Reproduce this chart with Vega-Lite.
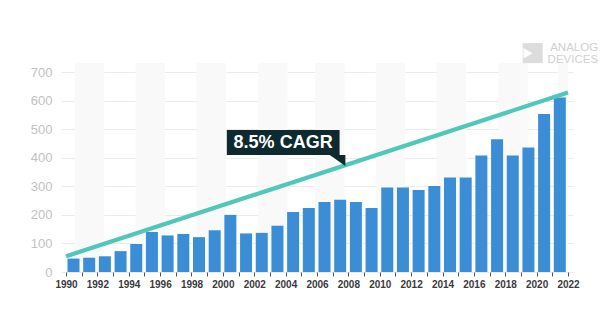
{
  "$schema": "https://vega.github.io/schema/vega-lite/v6.json",
  "autosize": {"type": "none"},
  "width": 512,
  "height": 209,
  "padding": {"left": 61, "top": 63, "right": 27, "bottom": 61},
  "background": "white",
  "title": {
    "text": ["ANALOG", "DEVICES"],
    "anchor": "end",
    "align": "right",
    "dx": 19,
    "offset": -22,
    "fontSize": 11.5,
    "lineHeight": 12,
    "font": "Liberation Sans",
    "fontWeight": "normal",
    "color": "#d0d0d0"
  },
  "config": {
    "view": {"stroke": null},
    "font": "Liberation Sans",
    "axis": {"labelOverlap": false, "labelFlush": false, "title": null, "labelFont": "Liberation Sans", "labelSeparation": 0},
    "axisX": {
      "grid": false,
      "domain": false,
      "ticks": true,
      "tickColor": "#555555",
      "tickSize": 4,
      "labelPadding": 3,
      "labelFontSize": 10,
      "labelFontWeight": "bold",
      "labelColor": "#3a3a3a"
    },
    "axisY": {
      "domain": false,
      "ticks": false,
      "grid": true,
      "gridColor": "#ebebeb",
      "gridWidth": 1,
      "labelColor": "#c2c2c2",
      "labelFontSize": 13,
      "labelPadding": 9
    }
  },
  "datasets": {
    "bars": [
      {"year": 1990, "value": 47}, {"year": 1991, "value": 50}, {"year": 1992, "value": 55},
      {"year": 1993, "value": 73}, {"year": 1994, "value": 98}, {"year": 1995, "value": 140},
      {"year": 1996, "value": 128}, {"year": 1997, "value": 133}, {"year": 1998, "value": 122},
      {"year": 1999, "value": 146}, {"year": 2000, "value": 200}, {"year": 2001, "value": 135},
      {"year": 2002, "value": 137}, {"year": 2003, "value": 162}, {"year": 2004, "value": 210},
      {"year": 2005, "value": 224}, {"year": 2006, "value": 245}, {"year": 2007, "value": 253},
      {"year": 2008, "value": 245}, {"year": 2009, "value": 224}, {"year": 2010, "value": 296},
      {"year": 2011, "value": 296}, {"year": 2012, "value": 287}, {"year": 2013, "value": 301},
      {"year": 2014, "value": 331}, {"year": 2015, "value": 331}, {"year": 2016, "value": 408},
      {"year": 2017, "value": 465}, {"year": 2018, "value": 408}, {"year": 2019, "value": 436},
      {"year": 2020, "value": 553}, {"year": 2021, "value": 611}
    ],
    "bands": [
      {"start": 1990.56, "end": 1992.44}, {"start": 1994.44, "end": 1996.31},
      {"start": 1998.31, "end": 2000.19}, {"start": 2002.25, "end": 2004.12},
      {"start": 2005.88, "end": 2007.75}, {"start": 2009.75, "end": 2011.62},
      {"start": 2013.62, "end": 2015.5}, {"start": 2017.56, "end": 2019.44},
      {"start": 2021.38, "end": 2022}
    ],
    "cagr": [{"year": 1990, "value": 55}, {"year": 2022, "value": 628}],
    "tail": [
      {"year": 2006.81, "top": 409.5, "bottom": 409.5},
      {"year": 2007.81, "top": 409.5, "bottom": 371}
    ]
  },
  "layer": [
    {
      "data": {"name": "bands"},
      "mark": {"type": "rect", "color": "#f9f9f9"},
      "encoding": {
        "x": {"field": "start", "type": "quantitative", "scale": {"domain": [1990, 2022], "nice": false, "zero": false},
          "axis": {
            "values": [1990,1991,1992,1993,1994,1995,1996,1997,1998,1999,2000,2001,2002,2003,2004,2005,2006,2007,2008,2009,2010,2011,2012,2013,2014,2015,2016,2017,2018,2019,2020,2021,2022],
            "labelExpr": "datum.value % 2 == 0 ? format(datum.value, 'd') : ''",
            "labelOverlap": false, "tickCount": 33
          }},
        "x2": {"field": "end"}
      }
    },
    {
      "data": {"name": "bars"},
      "mark": {"type": "bar", "color": "#3b8ed6", "width": 12, "xOffset": 7.5},
      "encoding": {
        "x": {"field": "year", "type": "quantitative",
          "axis": {
            "values": [1990,1991,1992,1993,1994,1995,1996,1997,1998,1999,2000,2001,2002,2003,2004,2005,2006,2007,2008,2009,2010,2011,2012,2013,2014,2015,2016,2017,2018,2019,2020,2021,2022],
            "labelExpr": "datum.value % 2 == 0 ? format(datum.value, 'd') : ''",
            "labelOverlap": false, "tickCount": 33
          }},
        "y": {"field": "value", "type": "quantitative",
          "scale": {"domain": [0, 731.5], "nice": false},
          "axis": {"values": [0, 100, 200, 300, 400, 500, 600, 700], "labelOverlap": false, "tickCount": 8}}
      }
    },
    {
      "data": {"name": "cagr"},
      "mark": {"type": "line", "color": "#4fc8b9", "strokeWidth": 4.2, "strokeCap": "butt"},
      "encoding": {
        "x": {"field": "year", "type": "quantitative",
          "axis": {
            "values": [1990,1991,1992,1993,1994,1995,1996,1997,1998,1999,2000,2001,2002,2003,2004,2005,2006,2007,2008,2009,2010,2011,2012,2013,2014,2015,2016,2017,2018,2019,2020,2021,2022],
            "labelExpr": "datum.value % 2 == 0 ? format(datum.value, 'd') : ''",
            "labelOverlap": false, "tickCount": 33
          }},
        "y": {"field": "value", "type": "quantitative",
          "axis": {"values": [0, 100, 200, 300, 400, 500, 600, 700], "labelOverlap": false, "tickCount": 8}}
      }
    },
    {
      "data": {"name": "tail"},
      "mark": {"type": "area", "color": "#0f2a2f", "opacity": 1},
      "encoding": {
        "x": {"field": "year", "type": "quantitative",
          "axis": {
            "values": [1990,1991,1992,1993,1994,1995,1996,1997,1998,1999,2000,2001,2002,2003,2004,2005,2006,2007,2008,2009,2010,2011,2012,2013,2014,2015,2016,2017,2018,2019,2020,2021,2022],
            "labelExpr": "datum.value % 2 == 0 ? format(datum.value, 'd') : ''",
            "labelOverlap": false, "tickCount": 33
          }},
        "y": {"field": "top", "type": "quantitative",
          "axis": {"values": [0, 100, 200, 300, 400, 500, 600, 700], "labelOverlap": false, "tickCount": 8}},
        "y2": {"field": "bottom"}
      }
    },
    {
      "data": {"values": [{"label": "8.5% CAGR", "x0": 2000.25, "x1": 2007.44, "y0": 497, "y1": 409.5, "xc": 2003.84, "yc": 453}]},
      "layer": [
        {
          "mark": {"type": "rect", "color": "#0f2a2f"},
          "encoding": {
            "x": {"field": "x0", "type": "quantitative",
              "axis": {
                "values": [1990,1991,1992,1993,1994,1995,1996,1997,1998,1999,2000,2001,2002,2003,2004,2005,2006,2007,2008,2009,2010,2011,2012,2013,2014,2015,2016,2017,2018,2019,2020,2021,2022],
                "labelExpr": "datum.value % 2 == 0 ? format(datum.value, 'd') : ''",
                "labelOverlap": false, "tickCount": 33
              }},
            "x2": {"field": "x1"},
            "y": {"field": "y0", "type": "quantitative",
              "axis": {"values": [0, 100, 200, 300, 400, 500, 600, 700], "labelOverlap": false, "tickCount": 8}},
            "y2": {"field": "y1"}
          }
        },
        {
          "mark": {"type": "text", "color": "white", "fontSize": 18, "fontWeight": "bold", "font": "Liberation Sans", "align": "center", "baseline": "middle"},
          "encoding": {
            "x": {"field": "xc", "type": "quantitative",
              "axis": {
                "values": [1990,1991,1992,1993,1994,1995,1996,1997,1998,1999,2000,2001,2002,2003,2004,2005,2006,2007,2008,2009,2010,2011,2012,2013,2014,2015,2016,2017,2018,2019,2020,2021,2022],
                "labelExpr": "datum.value % 2 == 0 ? format(datum.value, 'd') : ''",
                "labelOverlap": false, "tickCount": 33
              }},
            "y": {"field": "yc", "type": "quantitative",
              "axis": {"values": [0, 100, 200, 300, 400, 500, 600, 700], "labelOverlap": false, "tickCount": 8}},
            "text": {"field": "label"}
          }
        }
      ]
    },
    {
      "data": {"values": [{"x": 2019.75, "y": 766, "xt": 2019.45}]},
      "layer": [
        {
          "mark": {"type": "point", "shape": "square", "size": 400, "filled": true, "color": "#dcdcdc", "opacity": 1},
          "encoding": {
            "x": {"field": "x", "type": "quantitative",
              "axis": {
                "values": [1990,1991,1992,1993,1994,1995,1996,1997,1998,1999,2000,2001,2002,2003,2004,2005,2006,2007,2008,2009,2010,2011,2012,2013,2014,2015,2016,2017,2018,2019,2020,2021,2022],
                "labelExpr": "datum.value % 2 == 0 ? format(datum.value, 'd') : ''",
                "labelOverlap": false, "tickCount": 33
              }},
            "y": {"field": "y", "type": "quantitative",
              "axis": {"values": [0, 100, 200, 300, 400, 500, 600, 700], "labelOverlap": false, "tickCount": 8}}
          }
        },
        {
          "mark": {"type": "point", "shape": "triangle-right", "size": 110, "filled": true, "color": "white", "opacity": 1},
          "encoding": {
            "x": {"field": "xt", "type": "quantitative",
              "axis": {
                "values": [1990,1991,1992,1993,1994,1995,1996,1997,1998,1999,2000,2001,2002,2003,2004,2005,2006,2007,2008,2009,2010,2011,2012,2013,2014,2015,2016,2017,2018,2019,2020,2021,2022],
                "labelExpr": "datum.value % 2 == 0 ? format(datum.value, 'd') : ''",
                "labelOverlap": false, "tickCount": 33
              }},
            "y": {"field": "y", "type": "quantitative",
              "axis": {"values": [0, 100, 200, 300, 400, 500, 600, 700], "labelOverlap": false, "tickCount": 8}}
          }
        }
      ]
    }
  ]
}
